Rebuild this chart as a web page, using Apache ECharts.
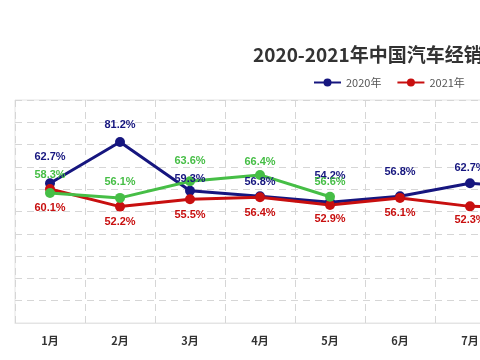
<!DOCTYPE html>
<html>
<head>
<meta charset="utf-8">
<script src="https://cdn.jsdelivr.net/npm/echarts@6/dist/echarts.min.js"></script>
<style>html,body{margin:0;padding:0;background:#fff}#c{width:480px;height:360px}</style>
</head>
<body>
<div id="c"></div>
<script>
var titleText = '2020-2021年中国汽车经销商库存预警指数';
var months = ['1月','2月','3月','4月','5月','6月','7月','8月','9月','10月','11月','12月'];
var s2020Name = '2020年';
var s2020 = [62.7, 81.2, 59.3, 56.8, 54.2, 56.8, 62.7, 60.5, 57.8, 55.6, 54.3, 53.1];
var s2021Name = '2021年';
var s2021 = [60.1, 52.2, 55.5, 56.4, 52.9, 56.1, 52.3, 51.8, 54.5, 53.2, 52.6, 51.9];
var s2022Name = '2022年';
var s2022 = [58.3, 56.1, 63.6, 66.4, 56.6, null, null, null, null, null, null, null];

// label distance tweaks (styling, kept apart from data)
var labelDist = {
  '2020': [16, 6, 1, 4, 16, 14, 5],
  '2021': [8, 5, 5, 5, 3, 5, 3],
  '2022': [8, 5, 10, 2, 4]
};

function build(vals, key) {
  return vals.map(function (v, i) {
    var d = labelDist[key][i];
    if (v == null) return null;
    return d == null ? v : { value: v, label: { distance: d } };
  });
}

function mkSeries(name, vals, key, color, pos) {
  return {
    name: name,
    type: 'line',
    data: build(vals, key),
    symbol: 'circle',
    symbolSize: 10,
    lineStyle: { width: 3, color: color },
    itemStyle: { color: color },
    label: {
      show: true,
      position: pos,
      distance: 5,
      color: color,
      fontSize: 11,
      fontWeight: 'bold',
      fontFamily: 'Liberation Sans',
      formatter: function (p) { return p.value.toFixed(1) + '%'; }
    },
    emphasis: { disabled: true },
    animation: false
  };
}

var chart = echarts.init(document.getElementById('c'), null, { renderer: 'canvas' });
chart.setOption({
  animation: false,
  backgroundColor: '#fff',
  title: {
    text: titleText,
    left: 253,
    top: 45,
    padding: 0,
    textStyle: { fontSize: 19, fontWeight: 'bold', color: '#333', fontFamily: 'Noto Sans CJK SC' }
  },
  legend: {
    data: [s2020Name, s2021Name, s2022Name],
    left: 313,
    top: 77,
    padding: 0,
    width: 600,
    itemWidth: 27,
    itemHeight: 10,
    itemGap: 15,
    textStyle: { fontSize: 11, color: '#555', fontFamily: 'Noto Sans CJK SC' }
  },
  grid: {
    left: 15,
    top: 100,
    width: 840,
    height: 223,
    outerBoundsMode: 'none',
    containLabel: false,
    show: true,
    borderColor: '#e4e4e4',
    borderWidth: 1
  },
  xAxis: {
    type: 'category',
    data: months,
    boundaryGap: true,
    axisLine: { show: true, lineStyle: { color: '#e4e4e4' } },
    axisTick: { show: false },
    axisLabel: { color: '#333', fontSize: 11, fontWeight: 'bold', margin: 12, fontFamily: 'Noto Sans CJK SC' },
    splitLine: { show: true, lineStyle: { type: [7, 5], color: '#d6d6d6' } }
  },
  yAxis: {
    type: 'value',
    min: 0,
    max: 100,
    interval: 10,
    axisLabel: { show: false },
    axisLine: { show: false },
    axisTick: { show: false },
    splitLine: { show: true, lineStyle: { type: [7, 5], color: '#d6d6d6' } }
  },
  series: [
    mkSeries(s2020Name, s2020, '2020', '#16167f', 'top'),
    mkSeries(s2021Name, s2021, '2021', '#c80f0f', 'bottom'),
    mkSeries(s2022Name, s2022, '2022', '#46be46', 'top')
  ]
});
</script>
</body>
</html>
